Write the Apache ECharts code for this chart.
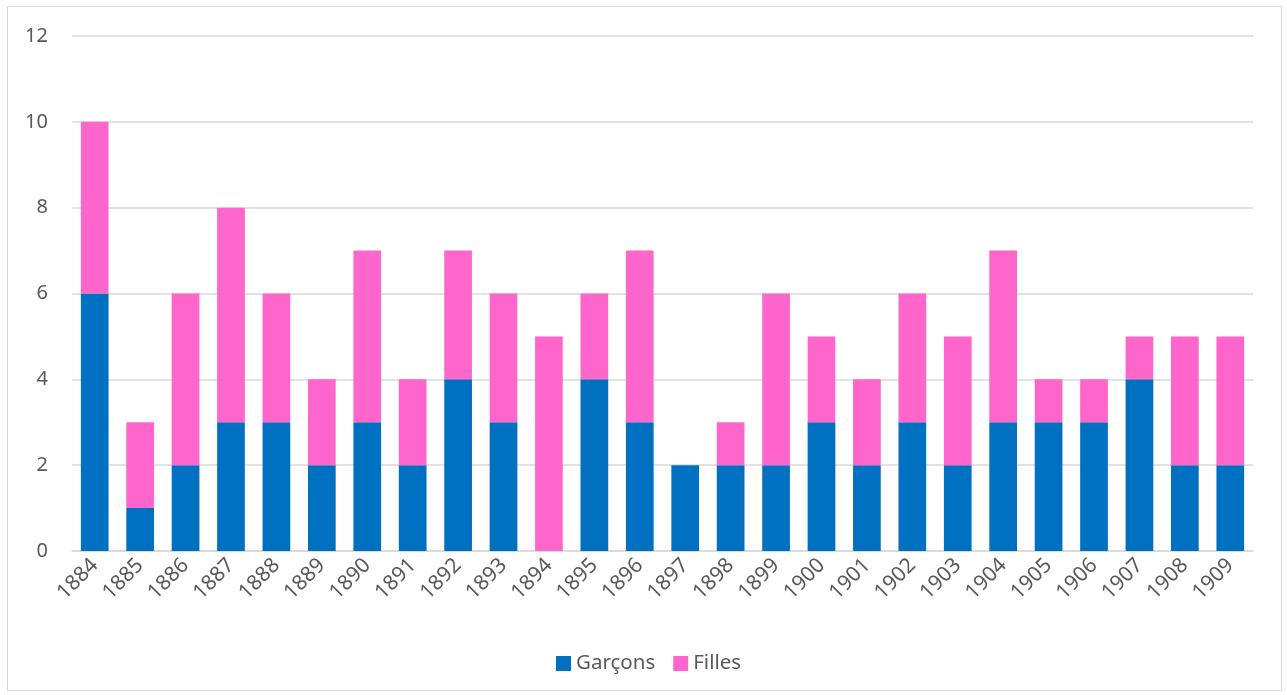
<!DOCTYPE html>
<html><head><meta charset="utf-8">
<script src="https://cdn.jsdelivr.net/npm/echarts@6/dist/echarts.min.js"></script>
<style>
html,body{margin:0;padding:0;background:#fff;}
#frame{position:absolute;left:7px;top:6px;width:1275px;height:685px;border:1.5px solid #d9d9d9;box-sizing:border-box;}
#c{position:absolute;left:0;top:0;width:1287px;height:695px;}
</style></head>
<body>
<div id="frame"></div>
<div id="c"></div>
<script>
const categories = ['1884','1885','1886','1887','1888','1889','1890','1891','1892','1893','1894','1895','1896','1897','1898','1899','1900','1901','1902','1903','1904','1905','1906','1907','1908','1909'];
const garcons = [6,1,2,3,3,2,3,2,4,3,0,4,3,2,2,2,3,2,3,2,3,3,3,4,2,2];
const filles  = [4,2,4,5,3,2,4,2,3,3,5,2,4,0,1,4,2,2,3,3,4,1,1,1,3,3];
const yTicks = {min:0, max:12, interval:2};

const chart = echarts.init(document.getElementById('c'), null, {renderer:'canvas'});
const font = '"Noto Sans", sans-serif';
chart.setOption({
  animation:false,
  textStyle:{fontFamily:font},
  grid:{left:72, right:34, top:36, bottom:144, containLabel:false},
  legend:{
    bottom:16, left:551, itemWidth:15, itemHeight:15, itemGap:18,
    icon:'rect',
    textStyle:{fontSize:20.5, color:'#595959', fontFamily:font},
    data:['Garçons','Filles']
  },
  xAxis:{
    type:'category', data:categories,
    axisLine:{lineStyle:{color:'#d9d9d9', width:1.5}},
    axisTick:{show:false},
    axisLabel:{rotate:45, fontSize:21, color:'#595959', margin:11, interval:0, fontFamily:font}
  },
  yAxis:{
    type:'value', min:yTicks.min, max:yTicks.max, interval:yTicks.interval,
    axisLine:{show:false}, axisTick:{show:false},
    axisLabel:{fontSize:20, color:'#595959', margin:24, fontFamily:font},
    splitLine:{lineStyle:{color:'#d9d9d9', width:1.5}}
  },
  series:[
    {name:'Garçons', type:'bar', stack:'t', data:garcons, barWidth:'61%', itemStyle:{color:'#0070C0'}},
    {name:'Filles', type:'bar', stack:'t', data:filles, barWidth:'61%', itemStyle:{color:'#FF66CC'}}
  ]
});
</script>
</body></html>
